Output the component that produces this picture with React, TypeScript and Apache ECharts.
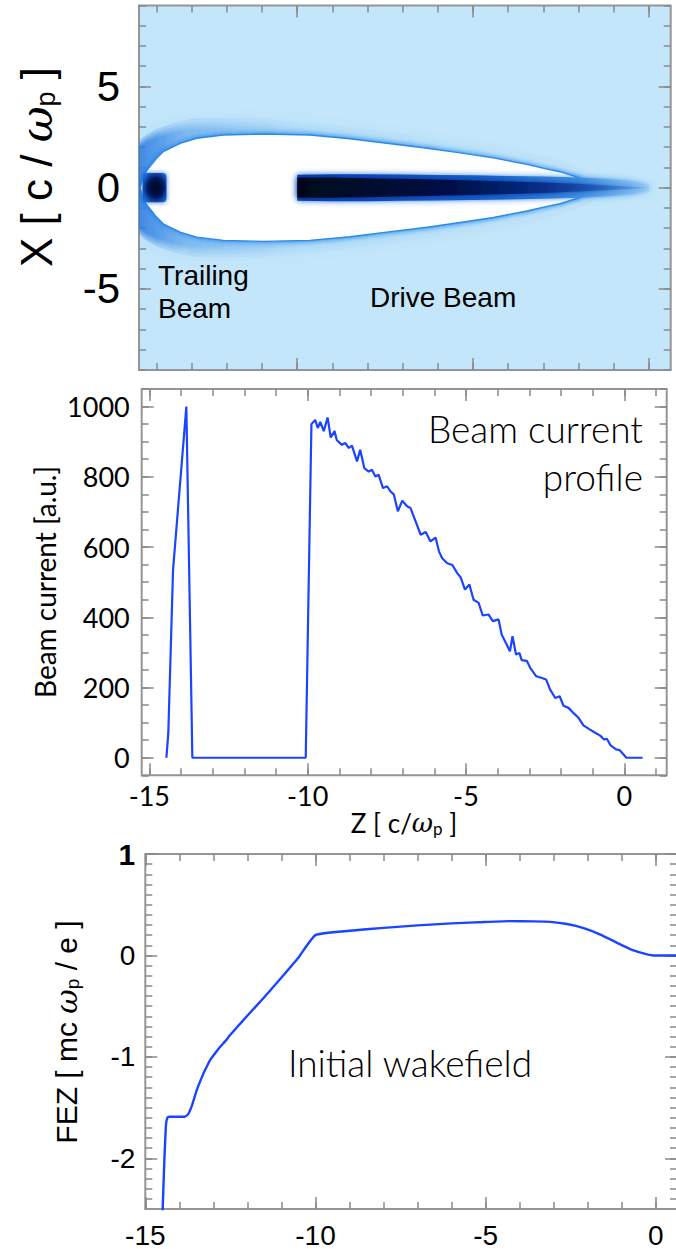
import React, { useEffect, useRef } from "react";
import * as echarts from "echarts";

// ---------- Panel 1 : density map shapes (z, transverse radius) ----------
const bubbleZ = [-14.47, -14.38, -14.28, -14.19, -14.0, -13.81, -13.33, -12.86, -12.1, -10.96, -9.64, -8.5, -7.4, -6.3, -5.37, -4.42, -3.47, -2.9, -2.53, -2.0, -1.6];
const bubbleR = [0, 0.55, 0.85, 1.04, 1.45, 1.78, 2.19, 2.44, 2.6, 2.65, 2.6, 2.42, 2.18, 1.95, 1.72, 1.47, 1.15, 0.92, 0.79, 0.5, 0];
const haloZ = [-14.5, -14.3, -14.0, -13.5, -13.0, -12.0, -11.0, -9.0, -7.0, -5.0, -3.0, -1.8, -1.4];
const haloR = [2.3, 2.6, 2.9, 3.2, 3.4, 3.45, 3.4, 3.1, 2.65, 2.1, 1.35, 0.62, 0];
const haloScale = [1.0, 0.95, 0.91, 0.88, 0.85];
const driveZ = [-10, -9, -8, -7, -6, -5, -4, -3, -2, -1.2, -0.5, 0];
const driveOuterR = [0.64, 0.67, 0.67, 0.65, 0.63, 0.61, 0.58, 0.55, 0.5, 0.44, 0.34, 0.15];
const driveCoreR = [0.5, 0.5, 0.47, 0.44, 0.4, 0.36, 0.31, 0.26, 0.19, 0.12, 0.05, 0.0];
const trailZ = [-14.4, -13.72];
const trailR = [0.72];

// ---------- Panel 2 : beam current profile ----------
const currentZ = [-14.46, -14.4, -14.25, -13.83, -13.64, -10.06, -9.88, -9.76, -9.68, -9.6, -9.49, -9.37, -9.27, -9.15, -9.08, -8.92, -8.81, -8.7, -8.6, -8.44, -8.34, -8.21, -8.07, -7.97, -7.86, -7.76, -7.62, -7.49, -7.39, -7.28, -7.15, -7.01, -6.86, -6.75, -6.59, -6.43, -6.27, -6.12, -5.96, -5.85, -5.75, -5.59, -5.43, -5.27, -5.17, -5.03, -4.89, -4.76, -4.6, -4.47, -4.29, -4.15, -3.97, -3.87, -3.71, -3.61, -3.53, -3.42, -3.31, -3.24, -3.08, -2.97, -2.78, -2.6, -2.47, -2.34, -2.18, -2.04, -1.92, -1.76, -1.6, -1.44, -1.29, -1.08, -0.92, -0.76, -0.64, -0.55, -0.43, -0.26, -0.15, -0.03, 0.07, 0.58];
const currentV = [0, 70, 535, 1000, 0, 0, 950, 962, 939, 956, 930, 969, 912, 930, 905, 891, 896, 882, 889, 844, 877, 825, 815, 820, 801, 806, 768, 773, 759, 750, 702, 732, 716, 711, 673, 635, 643, 616, 627, 587, 568, 554, 549, 525, 514, 479, 493, 450, 441, 405, 408, 389, 394, 350, 322, 303, 346, 294, 298, 278, 276, 256, 232, 227, 223, 194, 170, 175, 148, 142, 127, 113, 92, 80, 71, 63, 52, 54, 35, 24, 22, 10, 0, 0];

// ---------- Panel 3 : initial wakefield ----------
const wakeZ = [-14.5, -14.44, -14.39, -14.35, -14.3, -13.84, -13.74, -13.62, -13.49, -13.3, -13.2, -13.1, -12.95, -12.8, -12.65, -12.52, -12.3, -12.03, -11.5, -11.05, -10.5, -10.0, -9.0, -8.0, -7.0, -6.0, -5.0, -4.3, -3.6, -3.1, -2.61, -2.12, -1.63, -1.14, -0.66, -0.26, -0.07, 0.62];
const wakeV = [-2.6, -2.02, -1.66, -1.6, -1.59, -1.59, -1.565, -1.47, -1.33, -1.17, -1.1, -1.035, -0.965, -0.9, -0.845, -0.79, -0.705, -0.605, -0.41, -0.237, -0.02, 0.2, 0.243, 0.272, 0.296, 0.316, 0.33, 0.338, 0.336, 0.331, 0.31, 0.27, 0.206, 0.124, 0.049, 0.01, 0.0, 0.0];

// ---------- tick values ----------
const p1XMajor = [-10, -5, 0];
const p1YMajor = [-5, 0, 5];
const p2XMajor = [-15, -10, -5, 0];
const p2YMajor = [0, 200, 400, 600, 800, 1000];
const p3XMajor = [-15, -10, -5, 0];
const p3YMajor = [-2, -1, 0, 1];

const steps = (a: number, b: number, s: number) => {
  const out: number[] = [];
  for (let v = a; v <= b + 1e-9; v += s) out.push(Math.round(v * 1000) / 1000);
  return out;
};

const FRAME = "#959595";
const TICK = "#8a8a8a";
const LINE = "#1a44ff";

function boxAxes(
  grid: number,
  xr: number[],
  yr: number[],
  xMaj: number[],
  xMin: number[],
  yMaj: number[],
  yMin: number[],
  xLabel: any,
  yLabel: any
) {
  const mk = (dim: "x" | "y", pos: string, vals: number[], len: number, label: any) => ({
    type: "value",
    gridIndex: grid,
    min: dim === "x" ? xr[0] : yr[0],
    max: dim === "x" ? xr[1] : yr[1],
    position: pos,
    axisLine: { show: false, onZero: false },
    splitLine: { show: false },
    axisTick: { show: true, inside: true, length: len, customValues: vals, lineStyle: { color: TICK, width: 1.5 } },
    axisLabel: label
      ? { show: true, customValues: vals, formatter: (v: number) => String(v), ...label }
      : { show: false },
  });
  const xs = [
    mk("x", "bottom", xMaj, 12, xLabel),
    mk("x", "bottom", xMin, 7, null),
    mk("x", "top", xMaj, 12, null),
    mk("x", "top", xMin, 7, null),
  ];
  const ys = [
    mk("y", "left", yMaj, 12, yLabel),
    mk("y", "left", yMin, 7, null),
    mk("y", "right", yMaj, 12, null),
    mk("y", "right", yMin, 7, null),
  ];
  return { xs, ys };
}

export default function App() {
  const ref = useRef<HTMLDivElement>(null);
  useEffect(() => {
    if (!ref.current) return;
    const chart = echarts.init(ref.current, undefined, { renderer: "svg" });

    const a1 = boxAxes(0, [-14.5, 0.62], [-9, 9], p1XMajor, steps(-14, 0, 1), p1YMajor, steps(-9, 9, 1), null, {
      fontSize: 42, fontFamily: "Liberation Sans", color: "#000", margin: 19,
    });
    const a2 = boxAxes(1, [-15.24, 1.34], [-50, 1050], p2XMajor, steps(-15, 1, 1), p2YMajor, steps(-50, 1050, 50),
      { fontSize: 27, fontFamily: "Lato", color: "#000", margin: 7 },
      { fontSize: 27, fontFamily: "Lato", color: "#000", margin: 12 });
    const a3 = boxAxes(2, [-15, 0.62], [-2.5, 1], p3XMajor, steps(-15, 0, 1), p3YMajor, steps(-2.4, 1, 0.1),
      { fontSize: 28, fontFamily: "Liberation Sans Narrow, Liberation Sans", color: "#000", margin: 12 },
      {
        fontSize: 28, fontFamily: "Liberation Sans Narrow, Liberation Sans", color: "#000", margin: 10,
        formatter: (v: number) => (v === 1 ? "{b|1}" : String(v)),
        rich: { b: { fontSize: 30, fontWeight: "bold", fontFamily: "Liberation Sans Narrow, Liberation Sans", color: "#000" } },
      });

    const renderDensity = (params: any, api: any) => {
      const pt = (z: number, r: number) => api.coord([z, r]);
      const closed = (zs: number[], rs: number[]) => {
        const up = zs.map((z, i) => pt(z, rs[i]));
        const lo = zs.map((z, i) => pt(z, -rs[i])).reverse();
        return up.concat(lo);
      };
      const tl = pt(trailZ[0], trailR[0]);
      const br = pt(trailZ[1], -trailR[0]);
      const halos = haloScale.map((f) => ({
        type: "polygon",
        shape: { points: closed(haloZ, haloR.map((r) => r * f)) },
        style: {
          fill: new echarts.graphic.LinearGradient(0, 0, 1, 0, [
            { offset: 0, color: "rgba(30,115,222,0.3)" },
            { offset: 0.1, color: "rgba(70,150,232,0.14)" },
            { offset: 0.35, color: "rgba(110,182,240,0.08)" },
            { offset: 1, color: "rgba(140,200,244,0.03)" },
          ]),
          shadowBlur: 14,
          shadowColor: "rgba(110,180,240,0.25)",
        },
      }));
      return {
        type: "group",
        children: [
          ...halos,
          {
            type: "polygon",
            shape: { points: closed(bubbleZ, bubbleR) },
            style: {
              fill: "#ffffff",
              stroke: "#2a8ce6",
              lineWidth: 1.4,
              shadowBlur: 5,
              shadowColor: "rgba(20,120,230,0.9)",
            },
          },
          {
            type: "polygon",
            shape: { points: closed(driveZ, driveOuterR) },
            style: {
              fill: new echarts.graphic.LinearGradient(0, 0, 1, 0, [
                { offset: 0, color: "#0b3fb8" },
                { offset: 0.55, color: "#1a66d2" },
                { offset: 0.8, color: "#3d92e6" },
                { offset: 1, color: "rgba(140,200,244,0.6)" },
              ]),
              shadowBlur: 6,
              shadowColor: "rgba(40,130,230,0.8)",
            },
          },
          {
            type: "polygon",
            shape: { points: closed(driveZ, driveCoreR) },
            style: {
              fill: new echarts.graphic.LinearGradient(0, 0, 1, 0, [
                { offset: 0, color: "#000618" },
                { offset: 0.45, color: "#00114a" },
                { offset: 0.7, color: "#082e88" },
                { offset: 1, color: "rgba(30,100,210,0.2)" },
              ]),
              shadowBlur: 6,
              shadowColor: "rgba(5,40,140,0.9)",
            },
          },
          {
            type: "rect",
            shape: { x: tl[0], y: tl[1], width: br[0] - tl[0], height: br[1] - tl[1], r: 4 },
            style: {
              fill: new echarts.graphic.RadialGradient(0.55, 0.5, 0.6, [
                { offset: 0, color: "#000514" },
                { offset: 0.55, color: "#021660" },
                { offset: 1, color: "#1a6ad8" },
              ]),
              shadowBlur: 5,
              shadowColor: "rgba(20,100,220,0.9)",
            },
          },
        ],
      };
    };

    const rich = (size: number, fam: string, sub: number, pad: number) => ({
      a: { fontSize: size, fontFamily: fam, fill: "#000" },
      w: { fontSize: size, fontFamily: "DejaVu Serif", fontStyle: "italic", fill: "#000" },
      s: { fontSize: sub, fontFamily: fam, fill: "#000", padding: [pad, 0, 0, 0] },
    });

    const option: any = {
      animation: false,
      backgroundColor: "#ffffff",
      grid: [
        { left: 139, top: 5.4, width: 531.7, height: 364.6, show: true, backgroundColor: "#c4e6fa", borderColor: FRAME, borderWidth: 2, containLabel: false, outerBoundsMode: "none" },
        { left: 141.7, top: 389, width: 525, height: 386.3, show: true, backgroundColor: "#ffffff", borderColor: FRAME, borderWidth: 2, containLabel: false, outerBoundsMode: "none" },
        { left: 145.3, top: 854, width: 531.7, height: 355, show: true, backgroundColor: "#ffffff", borderColor: FRAME, borderWidth: 2, containLabel: false, outerBoundsMode: "none" },
      ],
      xAxis: [...a1.xs, ...a2.xs, ...a3.xs],
      yAxis: [...a1.ys, ...a2.ys, ...a3.ys],
      series: [
        {
          type: "custom",
          xAxisIndex: 0,
          yAxisIndex: 0,
          clip: true,
          renderItem: renderDensity,
          data: [[-7, 0]],
          silent: true,
        },
        {
          type: "line",
          xAxisIndex: 4,
          yAxisIndex: 4,
          data: currentZ.map((z, i) => [z, currentV[i]]),
          showSymbol: false,
          lineStyle: { color: LINE, width: 2.2 },
          clip: true,
        },
        {
          type: "line",
          xAxisIndex: 8,
          yAxisIndex: 8,
          data: wakeZ.map((z, i) => [z, wakeV[i]]),
          showSymbol: false,
          smooth: 0.15,
          lineStyle: { color: LINE, width: 2.4 },
          clip: true,
        },
      ],
      graphic: [
        {
          type: "text", x: 36, y: 167, rotation: Math.PI / 2,
          style: {
            text: "{a|X [ c / }{w|ω}{s|p}{a| ]}",
            rich: rich(44, "Liberation Sans", 27, 19),
            align: "center", verticalAlign: "middle",
          },
        },
        { type: "text", x: 158, y: 275, style: { text: "Trailing", fontSize: 28, fontFamily: "Liberation Sans", fill: "#000", align: "left", verticalAlign: "middle" } },
        { type: "text", x: 158, y: 308, style: { text: "Beam", fontSize: 28, fontFamily: "Liberation Sans", fill: "#000", align: "left", verticalAlign: "middle" } },
        { type: "text", x: 370, y: 297, style: { text: "Drive Beam", fontSize: 28, fontFamily: "Liberation Sans", fill: "#000", align: "left", verticalAlign: "middle" } },
        { type: "text", x: 643, y: 428, style: { text: "Beam current", fontSize: 37, fontFamily: "Lato", fontWeight: 300, fill: "#000", align: "right", verticalAlign: "middle" } },
        { type: "text", x: 643, y: 476, style: { text: "profile", fontSize: 37, fontFamily: "Lato", fontWeight: 300, fill: "#000", align: "right", verticalAlign: "middle" } },
        {
          type: "text", x: 45, y: 582, rotation: Math.PI / 2,
          style: { text: "Beam current [a.u.]", fontSize: 28, fontFamily: "Lato", fill: "#000", align: "center", verticalAlign: "middle" },
        },
        {
          type: "text", x: 404, y: 823,
          style: { text: "{a|Z [ c/}{w|ω}{s|p}{a| ]}", rich: rich(26, "Lato", 17, 11), align: "center", verticalAlign: "middle" },
        },
        {
          type: "text", x: 66, y: 1032, rotation: Math.PI / 2,
          style: { text: "{a|FEZ [ mc }{w|ω}{s|p}{a| / e ]}", rich: rich(30, "Liberation Sans", 19, 13), align: "center", verticalAlign: "middle" },
        },
        { type: "text", x: 410, y: 1062, style: { text: "Initial wakefield", fontSize: 37, fontFamily: "Lato", fontWeight: 300, fill: "#000", align: "center", verticalAlign: "middle" } },
      ],
    };
    chart.setOption(option);
    return () => chart.dispose();
  }, []);
  return <div ref={ref} style={{ position: "absolute", left: 0, top: 0, width: 676, height: 1249 }} />;
}
